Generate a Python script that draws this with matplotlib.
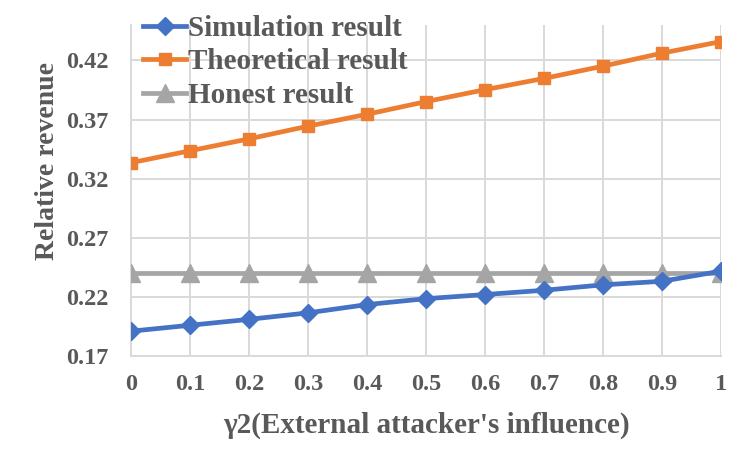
import matplotlib
matplotlib.use("Agg")
import matplotlib.pyplot as plt
from matplotlib.ticker import FixedLocator

gamma2 = [0, 0.1, 0.2, 0.3, 0.4, 0.5, 0.6, 0.7, 0.8, 0.9, 1]
x_labels = ["0", "0.1", "0.2", "0.3", "0.4", "0.5", "0.6", "0.7", "0.8", "0.9", "1"]
simulation = [0.191, 0.196, 0.201, 0.2065, 0.2135, 0.2185, 0.222, 0.2256, 0.2302, 0.2332, 0.2418]
theoretical = [0.3335, 0.3436, 0.3537, 0.3644, 0.3745, 0.3852, 0.3953, 0.4048, 0.4152, 0.4262, 0.436]
honest = [0.24, 0.24, 0.24, 0.24, 0.24, 0.24, 0.24, 0.24, 0.24, 0.24, 0.24]
y_ticks = [0.17, 0.22, 0.27, 0.32, 0.37, 0.42]
y_labels = ["0.17", "0.22", "0.27", "0.32", "0.37", "0.42"]

TXT = "#595959"
GRID = "#D9D9D9"
plt.rcParams['font.family'] = ['Liberation Serif', 'DejaVu Serif']
plt.rcParams['font.weight'] = 'bold'

fig = plt.figure(figsize=(7.5, 4.5), dpi=100)
ax = fig.add_axes([0.1747, 0.2089, 0.9613 - 0.1747, 0.9444 - 0.2089])

ax.plot(gamma2, honest, color="#A5A5A5", lw=3.4, marker="^", ms=13,
        label="Honest result", zorder=3)
ax.plot(gamma2, theoretical, color="#ED7D31", lw=3.4, marker="s", ms=8.5,
        label="Theoretical result", zorder=4)
ax.plot(gamma2, simulation, color="#4472C4", lw=3.4, marker="D", ms=9.5,
        label="Simulation result", zorder=5)

ax.set_xlim(0, 1)
ax.set_ylim(0.17, 0.45)
ax.xaxis.set_major_locator(FixedLocator(gamma2))
ax.set_xticklabels(x_labels)
ax.yaxis.set_major_locator(FixedLocator(y_ticks))
ax.set_yticklabels(y_labels)
ax.grid(True, color=GRID, lw=1.4, zorder=0)
ax.set_axisbelow(True)
for s in ["top", "right"]:
    ax.spines[s].set_visible(False)
for s in ["left", "bottom"]:
    ax.spines[s].set_color(GRID)
    ax.spines[s].set_linewidth(1.4)
ax.tick_params(axis="both", length=0, colors=TXT, labelsize=17.5)
ax.tick_params(axis="y", pad=16)
ax.tick_params(axis="x", pad=13)
for lab in ax.get_xticklabels() + ax.get_yticklabels():
    lab.set_fontweight("bold")

ax.set_ylabel("Relative revenue", fontsize=20, fontweight="bold", color=TXT)
ax.yaxis.set_label_coords(-0.12, 0.589)
ax.set_xlabel("γ2(External attacker's influence)", fontsize=21, fontweight="bold",
              color=TXT, labelpad=12)

handles, labels = ax.get_legend_handles_labels()
order = [2, 1, 0]
leg = ax.legend([handles[i] for i in order], [labels[i] for i in order],
                loc="upper left", bbox_to_anchor=(-0.01, 1.083), frameon=False,
                prop={"family": "Liberation Serif", "weight": "bold", "size": 21},
                handlelength=1.5, handletextpad=0.05, labelspacing=0.22,
                borderaxespad=0.2)
for t in leg.get_texts():
    t.set_color(TXT)

fig.savefig("out.png", dpi=100)
